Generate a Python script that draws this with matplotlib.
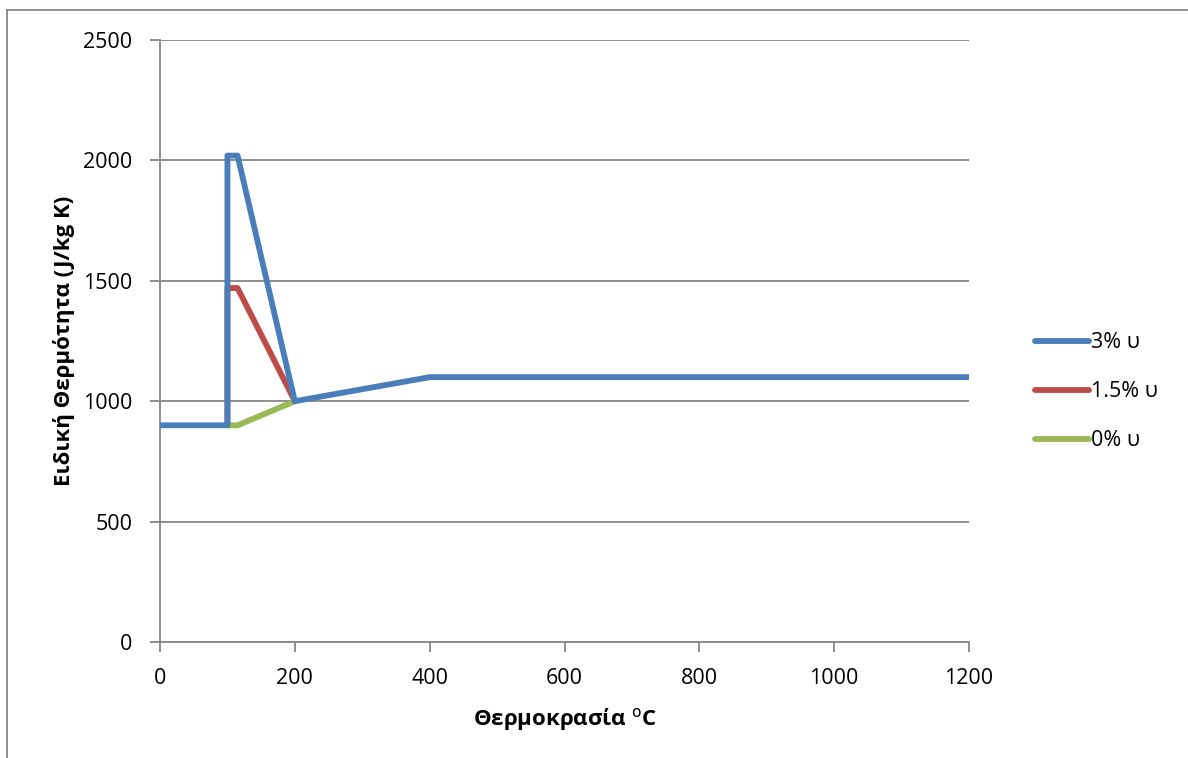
import matplotlib.pyplot as plt
from matplotlib.lines import Line2D

plt.rcParams['font.family'] = ['Open Sans', 'DejaVu Sans']

# specific heat of concrete vs temperature, for three moisture contents
temp_3 = [0, 100, 100, 115, 200, 400, 1200]
cp_3 = [900, 900, 2020, 2020, 1000, 1100, 1100]

temp_15 = [100, 100, 115, 200]
cp_15 = [900, 1470, 1470, 1000]

temp_0 = [100, 115, 200]
cp_0 = [900, 900, 1000]

labels = ['3% υ', '1.5% υ', '0% υ']
colors = ['#4a7ebb', '#be4b48', '#98b954']

fig = plt.figure(figsize=(11.88, 7.58), dpi=100)
ax = fig.add_axes([0.1347, 0.153, 0.681, 0.7942])

gray = '#868686'
lw = 4.2
ax.plot(temp_0, cp_0, color=colors[2], lw=lw, solid_capstyle='round', solid_joinstyle='round', zorder=3)
ax.plot(temp_15, cp_15, color=colors[1], lw=lw, solid_capstyle='round', solid_joinstyle='round', zorder=4)
ax.plot(temp_3, cp_3, color=colors[0], lw=lw, solid_capstyle='round', solid_joinstyle='round', zorder=5)

ax.set_xlim(0, 1200)
ax.set_ylim(0, 2500)
ax.set_xticks(range(0, 1201, 200))
ax.set_yticks(range(0, 2501, 500))
ax.grid(axis='y', color=gray, lw=1.3)
ax.set_axisbelow(True)
for s in ['top', 'right']:
    ax.spines[s].set_visible(False)
for s in ['left', 'bottom']:
    ax.spines[s].set_color(gray)
    ax.spines[s].set_linewidth(1.3)
ax.tick_params(direction='out', length=7, width=1.3, color=gray, labelsize=15.5)
ax.tick_params(axis='y', pad=13)
ax.tick_params(axis='x', pad=12)

ax.set_xlabel('Θερμοκρασία $^{\\mathrm{o}}$C', fontsize=16, fontweight='bold', labelpad=12)
ax.set_ylabel('Ειδική Θερμότητα (J/kg K)', fontsize=16, fontweight='bold', labelpad=6)

handles = [Line2D([], [], color=c, lw=lw, solid_capstyle='round') for c in colors]
fig.legend(handles, labels, loc='center left', bbox_to_anchor=(0.864, 0.483),
           frameon=False, fontsize=15.5, handlelength=2.5, handletextpad=0.1,
           labelspacing=1.3, borderaxespad=0)

# outer chart border (top and left edges)
fig.add_artist(Line2D([0.006, 1.0], [0.987, 0.987], color=gray, lw=1.3))
fig.add_artist(Line2D([0.006, 0.006], [0.0, 0.987], color=gray, lw=1.3))

fig.savefig('out.png', dpi=100)
